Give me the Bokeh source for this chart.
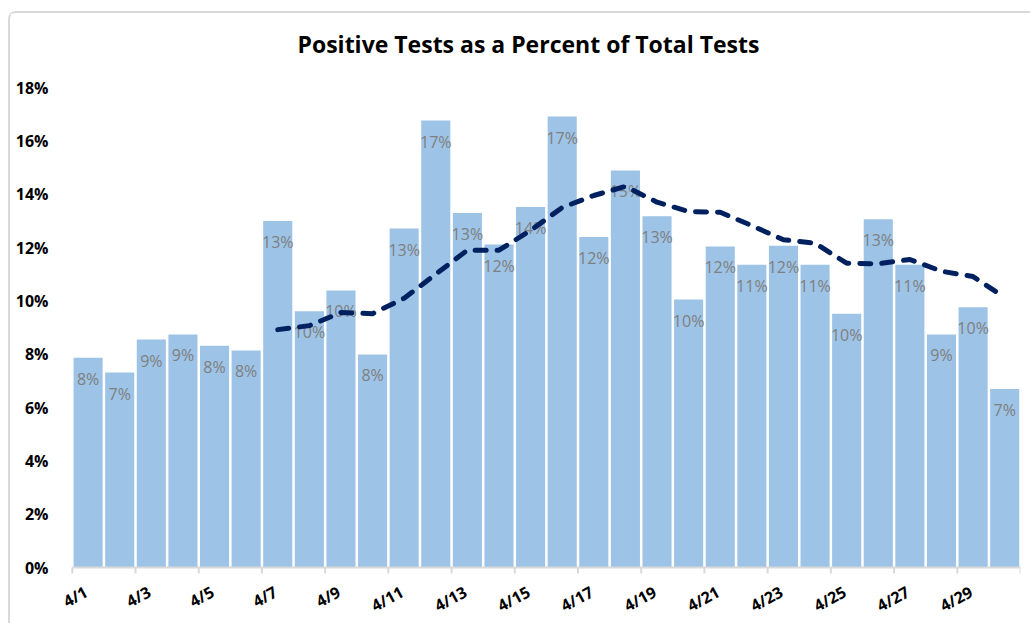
from bokeh.plotting import figure
from bokeh.models import (ColumnDataSource, FixedTicker, PrintfTickFormatter, Range1d, Title)
from bokeh.embed import file_html
from bokeh.resources import INLINE
from bokeh.core.properties import value

# ---- data -------------------------------------------------------------
dates = ["4/1", "4/2", "4/3", "4/4", "4/5", "4/6", "4/7", "4/8", "4/9", "4/10",
         "4/11", "4/12", "4/13", "4/14", "4/15", "4/16", "4/17", "4/18", "4/19", "4/20",
         "4/21", "4/22", "4/23", "4/24", "4/25", "4/26", "4/27", "4/28", "4/29", "4/30"]

pct_positive = [7.87, 7.31, 8.55, 8.74, 8.32, 8.14, 12.99, 9.61, 10.39, 7.99,
                12.71, 16.76, 13.29, 12.11, 13.52, 16.91, 12.39, 14.89, 13.17, 10.05,
                12.04, 11.35, 12.07, 11.35, 9.52, 13.06, 11.35, 8.74, 9.76, 6.69]

# 7-day average, shown from 4/7 onward
avg_dates = dates[6:]
avg_7day = [8.92, 9.07, 9.56, 9.52, 10.10, 11.00, 11.90, 11.90, 12.64, 13.50,
            13.95, 14.29, 13.70, 13.35, 13.32, 12.82, 12.29, 12.16, 11.41, 11.39,
            11.55, 11.11, 10.91, 10.13]

x_tick_labels = dates[::2]          # every other date is labelled
y_ticks = [0, 2, 4, 6, 8, 10, 12, 14, 16, 18]
title_text = "Positive Tests as a Percent of Total Tests"

# ---- sources ----------------------------------------------------------
idx = {d: i for i, d in enumerate(dates)}
n = len(dates)
bar_src = ColumnDataSource(dict(
    x=[idx[d] + 0.5 for d in dates],
    top=pct_positive,
    label=[f"{int(v + 0.5)}%" for v in pct_positive],
))
avg_src = ColumnDataSource(dict(
    x=[idx[d] + 0.5 for d in avg_dates],
    y=avg_7day,
))
xlab_src = ColumnDataSource(dict(
    x=[idx[d] + 0.5 for d in x_tick_labels],
    y=[0] * len(x_tick_labels),
    text=x_tick_labels,
))
bounds = list(range(0, n + 1, 2))    # category boundaries that carry a tick mark
tick_src = ColumnDataSource(dict(x=bounds, y=[0] * len(bounds)))

FONT = "Open Sans"
AXIS_GRAY = "#d9d9d9"

# the plotting area reaches below 0 (and a little left of the first category)
# so the category axis at 0 and its rotated labels share the data coordinates
p = figure(width=1022, height=612, output_backend="svg", toolbar_location=None,
           x_range=Range1d(-0.5, n), y_range=Range1d(-2.175, 18),
           x_axis_location=None,
           min_border_left=46, min_border_right=12, min_border_top=74, min_border_bottom=0)
p.styles = {"border-top": "2px solid " + AXIS_GRAY, "border-left": "2px solid " + AXIS_GRAY,
            "border-top-left-radius": "8px", "margin-top": "11px", "margin-left": "8px"}

# title: a thin spacer next to the plot area, then the real title above it
p.title = None
p.add_layout(Title(text=" ", text_font_size="1px", standoff=25), "above")
p.add_layout(Title(text=title_text, text_font=FONT, text_font_size="23px",
                   text_font_style="bold", text_color="#000000",
                   align="left", offset=241, standoff=0), "above")

p.vbar(x="x", top="top", bottom=0, width=0.92, source=bar_src,
       fill_color="#9DC3E6", line_color=None)
p.text(x="x", y="top", text="label", source=bar_src, y_offset=21,
       text_align="center", text_baseline="middle", text_font=value(FONT),
       text_font_size="16px", text_color="#7f7f7f")
p.line(x="x", y="y", source=avg_src, line_color="#002060", line_width=5,
       line_dash="11 11", line_cap="round", line_join="round")

# category axis at 0: line, boundary ticks, rotated labels
p.segment(x0=bounds[0], y0=0, x1=bounds[-1], y1=0, line_color=AXIS_GRAY, line_width=2)
p.ray(x="x", y="y", source=tick_src, length=6, length_units="screen",
      angle=-1.5707963, line_color=AXIS_GRAY, line_width=2)
p.text(x="x", y="y", text="text", source=xlab_src, angle=0.5,
       x_offset=-2, y_offset=23, text_align="right", text_baseline="middle",
       text_font=value(FONT), text_font_size="16px", text_font_style="bold",
       text_color="#000000")

p.xgrid.visible = False
p.ygrid.visible = False
p.outline_line_color = None

# y axis
ya = p.yaxis[0]
ya.ticker = FixedTicker(ticks=y_ticks)
ya.formatter = PrintfTickFormatter(format="%d%%")
ya.axis_line_color = None
ya.major_tick_line_color = None
ya.minor_tick_line_color = None
ya.major_label_standoff = 2
ya.major_label_text_font = FONT
ya.major_label_text_font_size = "16px"
ya.major_label_text_font_style = "bold"
ya.major_label_text_color = "#000000"

open("out.html", "w").write(file_html(p, INLINE))
